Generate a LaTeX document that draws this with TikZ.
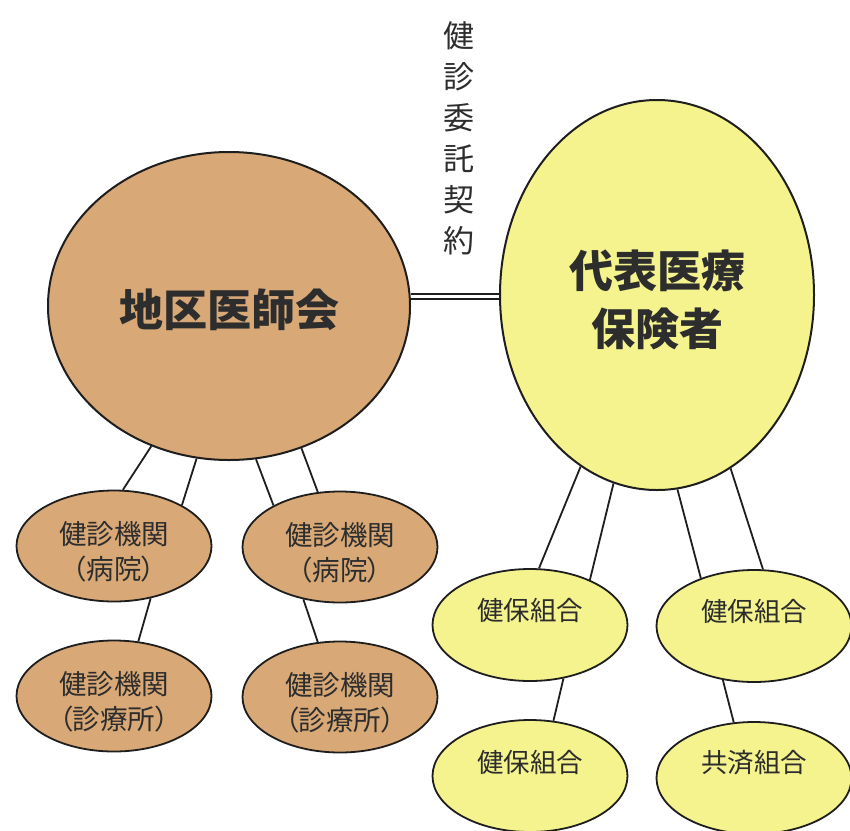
\documentclass[tikz,border=0pt]{standalone}
\usepackage{fontspec}
\newfontfamily\cjk{Noto Sans CJK JP}
\newfontfamily\cjkp[RawFeature=+palt]{Noto Sans CJK JP}
\usetikzlibrary{shapes.geometric}
\definecolor{tan}{RGB}{216,168,118}
\definecolor{yel}{RGB}{244,243,142}
\definecolor{ink}{RGB}{45,45,45}
\definecolor{edge}{RGB}{30,30,30}
\tikzset{
  bigL/.style={ellipse, draw=edge, line width=2pt, fill=tan, minimum width=362pt, minimum height=308pt, inner sep=0pt},
  bigR/.style={ellipse, draw=edge, line width=2pt, fill=yel, minimum width=314pt, minimum height=390pt, inner sep=0pt},
  smallT/.style={ellipse, draw=edge, line width=1.8pt, fill=tan, minimum width=195pt, minimum height=111pt, inner sep=0pt},
  smallY/.style={ellipse, draw=edge, line width=1.8pt, fill=yel, minimum width=195pt, minimum height=112pt, inner sep=0pt},
  bigtxt/.style={text=ink, align=center, inner sep=0pt, font=\cjk\bfseries\fontsize{44}{58}\selectfont},
  txtT/.style={text=ink, align=center, inner sep=0pt, font=\cjkp\fontsize{27.5}{35}\selectfont},
  txtY/.style={text=ink, align=center, inner sep=0pt, font=\cjkp\fontsize{26.5}{35}\selectfont},
  link/.style={draw=edge, line width=1.8pt},
  contract/.style={draw=edge, line width=1.8pt, double=white, double distance=3pt},
  vtext/.style={text=ink, align=center, inner sep=0pt, font=\cjk\fontsize{31}{41}\selectfont}
}
\begin{document}
\begin{tikzpicture}[x=1pt, y=-1pt]
\useasboundingbox[fill=white] (0,0) rectangle (850,830);
\begin{scope}
\clip (0,0) rectangle (850,830);
% big nodes
\node[bigL, label={[bigtxt, yshift=-4pt]center:地区医師会}] (ish) at (229,306) {};
\node[bigR, label={[bigtxt, yshift=-4.5pt]center:代表医療\\保険者}] (hok) at (657,295) {};
% left small nodes
\node[smallT, label={[txtT, yshift=-5.5pt]center:健診機関\\（病院）}] (b1) at (114,546) {};
\node[smallT, label={[txtT, yshift=-5.5pt]center:健診機関\\（病院）}] (b2) at (340,547) {};
\node[smallT, label={[txtT, yshift=-5.5pt]center:健診機関\\（診療所）}] (c1) at (114,696) {};
\node[smallT, label={[txtT, yshift=-5.5pt]center:健診機関\\（診療所）}] (c2) at (340,697) {};
% right small nodes
\node[smallY, label={[txtY, yshift=15pt]center:健保組合}] (k1) at (530,625) {};
\node[smallY, label={[txtY, yshift=15pt]center:健保組合}] (k2) at (754,626) {};
\node[smallY, label={[txtY, yshift=14pt]center:健保組合}] (k3) at (530,776) {};
\node[smallY, label={[txtY, yshift=15pt]center:共済組合}] (k4) at (754,778) {};
% vertical label
\node[vtext] (lab) at (459,138) {健\\診\\委\\託\\契\\約};
% contract double line
\draw[contract] (ish.3) -- (ish.3 -| hok.west);
% left connectors
\draw[link] (ish.241) -- (b1.81);
\draw[link] (ish.258) -- (b1.31);
\draw[link] (ish.280) -- (b2.148);
\draw[link] (ish.297.5) -- (b2.112);
\draw[link] (b1.305) -- (c1.66);
\draw[link] (b2.235) -- (c2.112);
% right connectors
\draw[link] (hok.246) -- (k1.81);
\draw[link] (hok.257.7) -- (k1.37);
\draw[link] (hok.276.6) -- (k2.138.4);
\draw[link] (hok.293.7) -- (k2.81);
\draw[link] (k1.302.7) -- (k3.67.7);
\draw[link] (k2.240.5) -- (k4.110.6);
\end{scope}
\end{tikzpicture}
\end{document}
